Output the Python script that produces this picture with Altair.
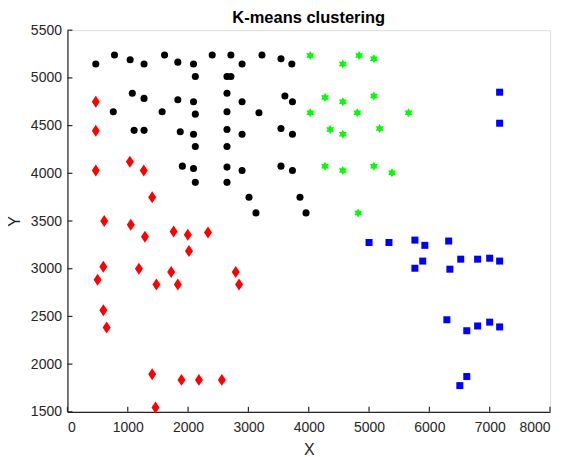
import altair as alt
import pandas as pd

# ---- data ----
black_x = [470, 780, 1040, 1270, 1610, 1830, 2090, 2120, 2400, 2710, 2645, 2710, 2895, 3225, 3540, 3720,
           1075, 1270, 760, 1570, 1830, 2090, 2120, 2645, 2645, 2895, 3175, 3605, 3730,
           1105, 1270, 1870, 2090, 2120, 2645, 2645, 2895, 3540, 3730,
           1905, 2090, 2120, 2645, 2645, 2895, 3540, 3730,
           3010, 3125, 3855, 3955]
black_y = [5145, 5240, 5190, 5145, 5240, 5165, 5145, 5015, 5240, 5240, 5015, 5015, 5145, 5240, 5200, 5145,
           4840, 4785, 4645, 4645, 4770, 4750, 4620, 4840, 4645, 4750, 4635, 4810, 4750,
           4450, 4450, 4435, 4410, 4280, 4460, 4280, 4410, 4470, 4410,
           4075, 4050, 3905, 4065, 3905, 4030, 4075, 4030,
           3750, 3585, 3750, 3585]

red_x = [470, 470, 1035, 1265, 470, 1405, 610, 1050, 1285, 1760, 1995, 2330, 2015, 595, 1185,
         500, 1475, 1720, 1830, 2790, 2845, 595, 650, 1405, 1890, 2180, 2560, 1460]
red_y = [4750, 4445, 4120, 4030, 4030, 3750, 3500, 3460, 3335, 3390, 3355, 3380, 3185, 3020, 3000,
         2885, 2835, 2965, 2835, 2965, 2835, 2565, 2385, 1895, 1835, 1835, 1835, 1545]

green_x = [4025, 4565, 4835, 5080, 4270, 4565, 5080, 4025, 4805, 5655, 4355, 4565, 5175,
           4270, 4565, 5080, 5380, 4820]
green_y = [5235, 5145, 5235, 5200, 4795, 4750, 4810, 4635, 4635, 4635, 4460, 4410, 4470,
           4075, 4030, 4075, 4005, 3585]

blue_x = [7165, 7165, 5000, 5330, 5760, 5925, 6320, 5890, 5760, 6340, 6520, 6800, 7000, 7165,
          6290, 6620, 6800, 7000, 7165, 6620, 6505]
blue_y = [4850, 4525, 3275, 3275, 3300, 3245, 3290, 3080, 3005, 2995, 3100, 3100, 3110, 3080,
          2465, 2350, 2400, 2440, 2390, 1870, 1775]

x_ticks = [0, 1000, 2000, 3000, 4000, 5000, 6000, 7000, 8000]
y_ticks = [1500, 2000, 2500, 3000, 3500, 4000, 4500, 5000, 5500]

W, H = 483, 382
AX = "#262626"
FONT = "Liberation Sans"

xs = alt.Scale(domain=[0, 8000], nice=False, zero=False)
ys = alt.Scale(domain=[1500, 5500], nice=False, zero=False)

x_axis = alt.Axis(values=x_ticks, tickSize=0, labelPadding=9, grid=False, domainColor=AX,
                  domainWidth=1.2, labelColor=AX, labelFontSize=14, labelFont=FONT, format="d",
                  titleFontSize=16, titleFont=FONT, titleFontWeight="normal",
                  titleColor=AX, titleX=W / 2, titleY=38, titleAlign="center",
                  titleBaseline="middle")
y_axis = alt.Axis(values=y_ticks, tickSize=0, labelPadding=6, grid=False, domainColor=AX,
                  domainWidth=1.2, labelColor=AX, labelFontSize=14, labelFont=FONT, format="d",
                  titleFontSize=16, titleFont=FONT, titleFontWeight="normal",
                  titleColor=AX, titleX=-52.5, titleY=H / 2, titleAlign="center",
                  titleBaseline="middle", titleAngle=-90)

diamond = "M0,-1L0.667,0L0,1L-0.667,0Z"
hexagram = ("M0,-1L0.289,-0.5L0.866,-0.5L0.577,0L0.866,0.5L0.289,0.5L0,1L-0.289,0.5"
            "L-0.866,0.5L-0.577,0L-0.866,-0.5L-0.289,-0.5Z")


def X(field):
    return alt.X(field, type="quantitative", scale=xs, axis=x_axis, title="X")


def Y(field):
    return alt.Y(field, type="quantitative", scale=ys, axis=y_axis, title="Y")


def layer(xv, yv, shape, color, size):
    df = pd.DataFrame({"x": xv, "y": yv})
    return alt.Chart(df).mark_point(filled=True, shape=shape, color=color, size=size,
                                    opacity=1, strokeWidth=0).encode(x=X("x"), y=Y("y"))


xt = alt.Chart(pd.DataFrame({"x": x_ticks})).mark_rule(color=AX, strokeWidth=1.2).encode(
    x=X("x"), y=alt.value(H), y2=alt.value(H - 5))
yt = alt.Chart(pd.DataFrame({"y": y_ticks})).mark_rule(color=AX, strokeWidth=1.2).encode(
    y=Y("y"), x=alt.value(0), x2=alt.value(5))

chart = alt.layer(
    layer(black_x, black_y, "circle", "#000000", 50),
    layer(red_x, red_y, diamond, "#FF0000", 144),
    layer(green_x, green_y, hexagram, "#00FF00", 81),
    layer(blue_x, blue_y, "square", "#0000FF", 49),
    xt, yt,
).properties(
    width=W, height=H,
    title=alt.TitleParams("K-means clustering", fontSize=16.5, fontWeight="bold", font=FONT,
                          color="#000000", anchor="middle", offset=6, dy=9),
    autosize=alt.AutoSizeParams(type="none"),
    padding={"left": 59.5, "top": 22, "right": 10, "bottom": 50},
).configure_view(strokeOpacity=0).configure(background="white")

chart.save("out.html", embed_options={"renderer": "svg", "actions": False})
